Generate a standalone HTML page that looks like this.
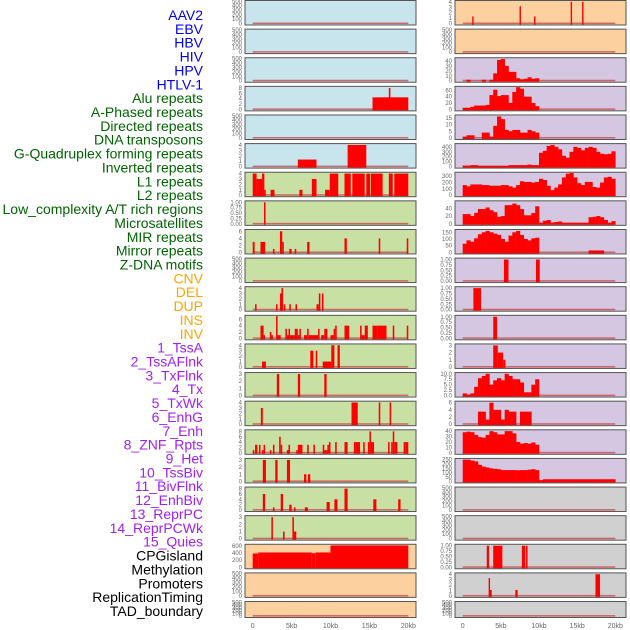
<!DOCTYPE html>
<html><head><meta charset="utf-8">
<style>
html,body{margin:0;padding:0;background:#fff;width:630px;height:630px;overflow:hidden}
svg{display:block}
</style></head>
<body>
<svg id="chart" width="630" height="630" xmlns="http://www.w3.org/2000/svg" font-family="Liberation Sans, sans-serif"></svg>
<script>
// ---------- data ----------
const trackLabels = ["AAV2","EBV","HBV","HIV","HPV","HTLV-1","Alu repeats","A-Phased repeats","Directed repeats","DNA transposons","G-Quadruplex forming repeats","Inverted repeats","L1 repeats","L2 repeats","Low_complexity A/T rich regions","Microsatellites","MIR repeats","Mirror repeats","Z-DNA motifs","CNV","DEL","DUP","INS","INV","1_TssA","2_TssAFlnk","3_TxFlnk","4_Tx","5_TxWk","6_EnhG","7_Enh","8_ZNF_Rpts","9_Het","10_TssBiv","11_BivFlnk","12_EnhBiv","13_ReprPC","14_ReprPCWk","15_Quies","CPGisland","Methylation","Promoters","ReplicationTiming","TAD_boundary"];
const labelGroups = ["v","v","v","v","v","v","r","r","r","r","r","r","r","r","r","r","r","r","r","s","s","s","s","s","c","c","c","c","c","c","c","c","c","c","c","c","c","c","c","o","o","o","o","o"];
const xTickLabels = ["0","5kb","10kb","15kb","20kb"];
const xTickValues = [0,5,10,15,20];

const emptyTicks = [0,100,200,300,400,500];
// left column segments [startKb, endKb, value]
const L4 = [[15.4,20,4.5],[17.5,17.7,8]];
const L6 = [[5.8,8.2,1.3],[12.2,14.6,4]];
const L7 = [[0,0.5,4],[0.5,0.8,3],[0.8,1.2,3],[1.2,1.5,4],[1.5,1.6,1],[2.3,2.8,1],[6.0,6.4,1],[7.6,8.2,3],[9.3,9.9,1],[9.9,11.0,4],[11.8,12.6,4],[12.8,14.4,4],[14.6,15.1,4],[15.2,16.7,4],[17.5,18.0,4],[18.2,20,4]];
const L8 = [[1.45,1.65,1]];
const L9 = [[0,0.25,3],[1.0,1.6,3],[2.6,2.8,1],[3.5,3.8,6],[3.8,4.0,3],[4.7,5.0,1],[5.4,5.6,1],[7.0,7.3,3],[11.8,12.1,4],[16.2,16.4,4],[19.8,20,4]];
const L11 = [[0.3,0.5,1],[3.0,3.2,1],[3.5,3.7,3],[3.7,3.9,4],[4.0,4.2,1],[4.7,4.9,1],[5.5,5.7,1],[8.2,8.5,1],[8.5,8.7,3],[8.9,9.1,3]];
const L12 = [[1.0,1.4,4],[1.4,1.5,1],[2.2,2.4,2],[2.4,2.6,1],[3.0,3.2,7],[3.2,3.6,1],[4.2,4.4,3],[4.4,4.6,1],[4.6,4.8,3],[4.8,5.4,1],[5.4,5.8,3],[5.8,6.0,1],[6.0,6.2,3],[6.6,7.0,1],[7.0,7.2,3],[7.2,8.4,1],[8.4,8.6,3],[8.8,9.2,1],[9.2,9.6,3],[10.0,10.4,1],[10.4,10.6,3],[10.6,10.8,4],[11.8,12.4,4],[13.8,14.0,4],[14.0,14.4,1],[14.4,14.8,4],[15.4,16.0,4],[16.0,17.2,4],[18.0,18.2,4],[19.8,20,4]];
const L13 = [[1.2,1.7,1],[7.4,7.8,3],[8.1,8.3,3],[9.0,10.1,1],[10.1,10.5,4],[10.9,11.2,4]];
const L14 = [[3.1,3.4,3],[5.8,6.1,3],[9.2,9.5,3]];
const L15 = [[1.05,1.3,3],[12.7,13.5,4],[16.2,16.4,4],[17.6,17.8,4]];
const L16 = [[0,0.2,1],[0.3,0.6,3],[0.8,1.0,3],[1.2,1.4,1],[1.4,1.6,3],[2.2,2.4,1],[2.6,2.8,3],[3.4,3.6,6],[3.6,3.8,3],[4.4,4.6,1],[4.6,4.8,3],[5.6,5.8,1],[5.8,6.4,3],[7.0,7.2,3],[7.8,8.0,3],[9.0,9.2,3],[9.2,9.6,1],[9.6,9.8,3],[9.8,10.0,4],[10.6,10.8,4],[11.8,12.2,4],[13.0,13.2,4],[13.2,13.8,4],[14.2,14.4,4],[14.8,15.0,4],[15.0,15.2,8],[15.2,15.6,4],[17.4,17.6,4],[17.8,18.0,4],[18.0,18.2,8],[18.2,18.6,4],[19.4,19.6,4],[19.6,20,4]];
const L17 = [[1.3,1.7,3],[2.9,3.2,3],[4.4,4.8,3],[6.6,6.9,1],[7.1,7.4,1]];
const L18 = [[1.3,1.6,6],[2.6,2.8,1],[3.6,3.9,6],[4.7,5.0,2],[5.3,5.5,1],[6.7,7.1,1],[9.5,9.9,3],[10.5,10.9,4],[11.8,12.2,8],[15.5,15.9,4],[18.7,19.0,4]];
const L19 = [[2.4,2.6,3],[3.9,4.1,1],[5.1,5.3,3],[5.3,5.6,1]];
const L20 = [[0,0.7,390],[0.7,7.6,420],[7.6,8.1,400],[8.1,10.0,420],[10.0,20,620]];
// right column segments
const R1 = [[1.25,1.35,1.3],[7.45,7.55,3.2],[9.35,9.45,1.3],[14.15,14.25,4],[15.65,15.75,4]];
const R10 = [[5.4,6.0,1],[9.6,10.1,1]];
const R11 = [[1.4,2.4,1]];
const R12 = [[4.0,4.5,1]];
const R13 = [[4.0,4.6,3],[4.6,5.3,2],[5.3,5.6,1]];
const R20 = [[3.15,3.45,1],[4.0,5.2,1],[7.75,8.2,1],[8.3,8.5,1]];
const R21 = [[3.4,3.55,3.3],[3.55,3.8,1.1],[6.9,7.2,1.1],[17.4,18.0,4]];
// right column binned series (0.5 kb bins)
const R3 = [0,2,0,0,0,2,0,2,15,42,44,30,18,18,5,3,4,7,4,5];
const R4 = [5,5,8,12,12,12,14,45,62,42,45,45,20,55,70,65,40,40,20,10];
const R5 = [1,2,2,0,0,4,4,1,9,16,14,6,5,6,6,4,4,6,5,4];
const R6 = [20,20,30,30,15,15,15,15,15,15,15,15,30,30,30,30,30,40,30,30,280,320,420,440,400,350,220,180,300,400,380,330,380,400,380,300,260,250,260,310];
const R7 = [160,140,170,170,170,160,160,150,150,150,160,160,140,120,160,220,210,210,200,210,260,240,150,80,120,170,280,340,350,280,190,160,210,210,130,120,200,280,290,260];
const R8 = [25,25,20,28,38,38,42,35,30,18,20,48,48,52,48,38,22,22,28,45,3,8,10,3,5,6,3,3,3,3,3,3,3,17,18,20,17,10,3,7];
const R9 = [65,90,80,105,135,150,160,150,140,130,100,80,125,150,160,130,100,90,105,110,0,0,0,0,0,0,0,0,0,0,0,0,0,15,15,15,15,0,0,0];
const R14 = [1,0.5,1,4,8,9,10,5,7,8,7,10,9,7.5,7.5,6,1.5,1.5,5,7.5];
const R15 = [0,0,0,0,3.5,3.5,1.3,6,4,4,1.3,4,3.5,3.5,0,3.5,3.5,3.5,0,0];
const R16 = [38,39,38,33,29,28,33,40,38,34,34,40,40,36,20,17,18,17,19,15];
const R17 = [250,250,240,230,190,170,160,150,145,140,130,130,130,130,128,130,130,135,140,130,15,25,25,25,25,25,25,25,25,25,25,25,25,25,25,25,25,25,25,25];

// panel configs: [segments, bins, ticks, ymax, bgKey]
const leftPanels = [
 [null,null,emptyTicks,500,"b"],[null,null,emptyTicks,500,"b"],[null,null,emptyTicks,500,"b"],
 [L4,null,[0,2,4,6,8],8.3,"b"],[null,null,emptyTicks,500,"b"],[L6,null,[0,1,2,3,4],4.1,"b"],
 [L7,null,[0,1,2,3,4],4.1,"g"],[L8,null,[0,0.25,0.5,0.75,1],1.03,"g"],[L9,null,[0,2,4,6],6.3,"g"],
 [null,null,emptyTicks,500,"g"],[L11,null,[0,1,2,3,4],4.1,"g"],[L12,null,[0,2,4,6],7,"g"],
 [L13,null,[0,1,2,3,4],4.1,"g"],[L14,null,[0,1,2,3],3.1,"g"],[L15,null,[0,1,2,3,4],4.1,"g"],
 [L16,null,[0,2,4,6,8],8.3,"g"],[L17,null,[0,1,2,3],3.1,"g"],[L18,null,[0,2,4,6,8],8.3,"g"],
 [L19,null,[0,1,2,3],3.1,"g"],[L20,null,[0,200,400,600],630,"o"],[null,null,emptyTicks,500,"o"],[null,null,emptyTicks,500,"o"]
];
const rightPanels = [
 [R1,null,[0,1,2,3,4],4.1,"o"],[null,null,emptyTicks,500,"o"],[null,R3,[0,10,20,30,40],45,"p"],
 [null,R4,[0,20,40,60],70,"p"],[null,R5,[0,5,10,15],16.5,"p"],[null,R6,[0,100,200,300,400],450,"p"],
 [null,R7,[0,100,200,300],350,"p"],[null,R8,[0,20,40],57,"p"],[null,R9,[0,50,100,150],165,"p"],
 [R10,null,[0,0.25,0.5,0.75,1],1.03,"p"],[R11,null,[0,0.25,0.5,0.75,1],1.03,"p"],[R12,null,[0,0.25,0.5,0.75,1],1.03,"p"],
 [R13,null,[0,1,2,3],3.1,"p"],[null,R14,[0,2.5,5,7.5,10],10.2,"p"],[null,R15,[0,2,4,6],6.2,"p"],
 [null,R16,[0,10,20,30,40],41,"p"],[null,R17,[0,50,100,150,200,250],255,"p"],[null,null,emptyTicks,500,"x"],
 [null,null,emptyTicks,500,"x"],[R20,null,[0,0.25,0.5,0.75,1],1.03,"x"],[R21,null,[0,1,2,3,4],4.1,"x"],[null,null,emptyTicks,500,"x"]
];

// ---------- rendering ----------
const NS="http://www.w3.org/2000/svg";
const svg=document.getElementById("chart");
const bgColors={b:"#c8e4ec",g:"#c8e0a4",o:"#fdd09f",p:"#d5c6e2",x:"#d0d0d0"};
const labelColors={v:"#0000ee",r:"#006400",s:"#ffa500",c:"#a020f0",o:"#000000"};
function mk(tag,attrs,parent){const e=document.createElementNS(NS,tag);for(const k in attrs)e.setAttribute(k,attrs[k]);(parent||svg).appendChild(e);return e;}

// labels
trackLabels.forEach((t,i)=>{
  const el=mk("text",{x:203,y:15+i*13.86+5,"text-anchor":"end","font-size":"14",fill:labelColors[labelGroups[i]]});
  el.textContent=t;
  
  
});

function drawColumn(panels,colLeft,colRight,x0,x20,side){
  const xs=kb=>x0+(x20-x0)*kb/20;
  panels.forEach((p,i)=>{
    const [segs,bins,ticks,ymax,bg]=p;
    const top=0.5+28.62*i, h=(i===panels.length-1)?16:24.5;
    const zeroY=top+h-1.5, topY=top+0.8;
    const ys=v=>zeroY-(zeroY-topY)*v/ymax;
    const g=mk("g",{});
    
    
    mk("rect",{x:colLeft,y:top,width:colRight-colLeft,height:h,fill:bgColors[bg]},g);
    const isDec=ticks.some(t=>t%1!==0)&&ticks[ticks.length-1]===1;
    ticks.forEach(t=>{
      const lab=mk("text",{x:colLeft-3,y:ys(t)+2,"text-anchor":"end","font-size":"6",fill:"#666"},g);
      lab.textContent=isDec?t.toFixed(2):(ticks.includes(2.5)?t.toFixed(1):String(t));
      
      
    });
    mk("rect",{x:xs(0),y:zeroY-1,width:xs(20)-xs(0),height:1.6,fill:"#c85050",opacity:"0.8"},g);
    if(segs){segs.forEach(s=>{
      const x=xs(s[0]),w=Math.max(1.4,xs(s[1])-xs(s[0]));
      const r=mk("rect",{x:x,y:ys(s[2]),width:w,height:zeroY-ys(s[2])+1,fill:"#ff0000"},g);
      
      
    });}
    if(bins){bins.forEach((v,k)=>{
      if(v<=0)return;
      const x=xs(k*0.5),w=xs((k+1)*0.5)-x+0.3;
      const r=mk("rect",{x:x,y:ys(v),width:w,height:zeroY-ys(v)+1,fill:"#ff0000"},g);
      
      
    });}
    mk("rect",{x:colLeft,y:top,width:colRight-colLeft,height:h,fill:"none",stroke:"#555","stroke-width":"1"},g);
  });
  xTickValues.forEach((v,k)=>{
    const t=mk("text",{x:xs(v),y:628,"text-anchor":"middle","font-size":"7",fill:"#666"});
    t.textContent=xTickLabels[k];
    
    
  });
}
drawColumn(leftPanels,245,416,252.7,408.3,"left");
drawColumn(rightPanels,455,626,462.7,615.3,"right");
</script>
</body></html>
